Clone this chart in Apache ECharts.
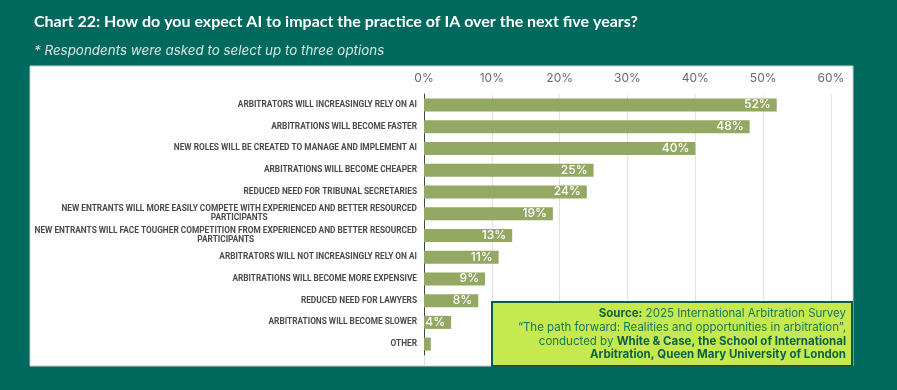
<!DOCTYPE html>
<html>
<head>
<meta charset="utf-8">
<script src="https://cdn.jsdelivr.net/npm/echarts@6/dist/echarts.min.js"></script>
<style>
html,body{margin:0;padding:0;background:#00695d;}
#c{width:897px;height:390px;}
</style>
</head>
<body>
<div id="c"></div>
<script>
const categories = [
  'ARBITRATORS WILL INCREASINGLY RELY ON AI',
  'ARBITRATIONS WILL BECOME FASTER',
  'NEW ROLES WILL BE CREATED TO MANAGE AND IMPLEMENT AI',
  'ARBITRATIONS WILL BECOME CHEAPER',
  'REDUCED NEED FOR TRIBUNAL SECRETARIES',
  'NEW ENTRANTS WILL MORE EASILY COMPETE WITH EXPERIENCED AND BETTER RESOURCED\nPARTICIPANTS',
  'NEW ENTRANTS WILL FACE TOUGHER COMPETITION FROM EXPERIENCED AND BETTER RESOURCED\nPARTICIPANTS',
  'ARBITRATORS WILL NOT INCREASINGLY RELY ON AI',
  'ARBITRATIONS WILL BECOME MORE EXPENSIVE',
  'REDUCED NEED FOR LAWYERS',
  'ARBITRATIONS WILL BECOME SLOWER',
  'OTHER'
];
const values = [52, 48, 40, 25, 24, 19, 13, 11, 9, 8, 4, 1];
const valueLabels = ['52%', '48%', '40%', '25%', '24%', '19%', '13%', '11%', '9%', '8%', '4%', ''];
const axisMax = 60;
const axisStep = 10;
const titleText = 'Chart 22: How do you expect AI to impact the practice of IA over the next five years?';
const subtitleText = '* Respondents were asked to select up to three options';
const sourceText = '{b|Source:} 2025 International Arbitration Survey\n\u201CThe path forward: Realities and opportunities in arbitration\u201D,\nconducted by {b|White & Case, the School of International}\n{b|Arbitration, Queen Mary University of London}';

const chart = echarts.init(document.getElementById('c'), null, {renderer: 'canvas'});
chart.setOption({
  backgroundColor: '#00695d',
  animation: false,
  title: [
    {text: titleText, left: 29, top: 9,
     textStyle: {color: '#ffffff', fontFamily: 'Lato', fontWeight: 'bold', fontSize: 16}},
    {text: subtitleText, left: 29, top: 39,
     textStyle: {color: '#d9e6e2', fontFamily: 'Inter', fontStyle: 'italic', fontWeight: 'normal', fontSize: 13.4}}
  ],
  graphic: [
    {type: 'rect', z: -10, shape: {x: 30, y: 66, width: 823, height: 300},
     style: {fill: '#ffffff', stroke: '#cfcfcf', lineWidth: 1}},
    {type: 'rect', z: 100, shape: {x: 492, y: 302, width: 360, height: 64},
     style: {fill: '#c6e94f', stroke: '#0b5a46', lineWidth: 2}},
    {type: 'text', z: 101, x: 846, y: 307,
     style: {text: sourceText, align: 'right', verticalAlign: 'top',
       fill: '#127a5a', font: '11.5px Inter', lineHeight: 13.7,
       rich: {b: {fontWeight: 'bold', fill: '#0d5f48', fontFamily: 'Inter', fontSize: 11.5}}}}
  ],
  grid: [
    {left: 424, right: 66, top: 94, height: 261},
    {left: 424, right: 66, top: 94, bottom: 24}
  ],
  xAxis: [
    {type: 'value', gridIndex: 0, position: 'top', min: 0, max: axisMax, interval: axisStep,
     axisLine: {show: false}, axisTick: {show: false}, splitLine: {show: false},
     axisLabel: {formatter: '{value}%', color: '#6a6a6a', fontFamily: 'Inter', fontSize: 12, margin: 10}},
    {type: 'value', gridIndex: 1, position: 'top', min: 0, max: axisMax, interval: axisStep,
     axisLine: {show: false}, axisTick: {show: false}, axisLabel: {show: false},
     splitLine: {show: true, lineStyle: {color: '#e2e2e2', width: 1}}}
  ],
  yAxis: [
    {type: 'category', gridIndex: 0, data: categories, inverse: true,
     axisLine: {show: true, lineStyle: {color: '#444444', width: 1}},
     axisTick: {show: false},
     axisLabel: {margin: 7, color: '#4a4a4a', fontFamily: 'Roboto', fontWeight: 'bold', fontSize: 8.3,
       lineHeight: 9,
       formatter: v => v.split('\n').map(l => '{c|' + l + '}').join('\n'),
       rich: {c: {align: 'center', color: '#4a4a4a', fontFamily: 'Roboto', fontWeight: 'bold', fontSize: 8.3, lineHeight: 9}}}},
    {type: 'category', gridIndex: 1, data: categories, inverse: true, show: false}
  ],
  series: [{
    type: 'bar', xAxisIndex: 0, yAxisIndex: 0, data: values, barWidth: 13,
    itemStyle: {color: '#93a862'},
    label: {show: true, position: 'insideRight', distance: 6, color: '#ffffff',
      fontFamily: 'Inter', fontWeight: 500, fontSize: 12,
      formatter: p => valueLabels[p.dataIndex]}
  }]
});
</script>
</body>
</html>
